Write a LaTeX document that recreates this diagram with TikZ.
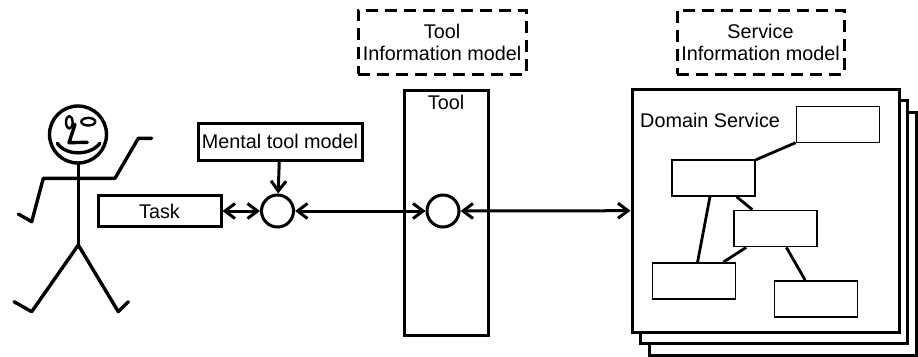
\documentclass[tikz,border=0pt]{standalone}
\usepackage{fontspec}
\setmainfont{Liberation Sans}
\usepackage{tikz}
\usetikzlibrary{positioning,arrows,arrows.meta,calc}
\tikzset{
  >={Straight Barb[length=10pt,width=15pt]},
  every node/.style={font=\fontsize{19.8}{22}\selectfont},
  % --- nodes
  box/.style   = {rectangle, draw, line width=3pt, fill=white, inner sep=0pt, align=center},
  dbox/.style  = {box, fill=none, dash pattern=on 12pt off 7pt},
  ibox/.style  = {rectangle, draw, line width=1.8pt, fill=white, minimum width=83pt, minimum height=36pt},
  hub/.style   = {circle, draw, line width=3pt, fill=white, minimum size=32pt, inner sep=0pt},
  layer/.style = {box, minimum width=267pt, minimum height=243pt},
  % --- edges
  e/.style     = {->, line width=3pt},
  ed/.style    = {<->, line width=3pt},
  link/.style  = {line width=2.8pt},
  fig/.style   = {line width=3.4pt, line cap=round, line join=round},
}
\begin{document}
\begin{tikzpicture}[x=1pt,y=-1pt]
  \useasboundingbox (0,0) rectangle (918,356);

  % the user
  \draw[fig] (78,134.5) circle[radius=28.5pt];
  \draw[fig,line width=2.4pt] (69.3,122.3) ellipse[x radius=3.3pt,y radius=6.3pt];
  \draw[fig,line width=2.4pt] (88.3,121.7) ellipse[x radius=7pt,y radius=3.8pt];
  \draw[fig] (75,124.3) -- (69,142.7) -- (87.3,142.3);
  \draw[fig] (57.3,143.3) .. controls (66,156) and (90,156) .. (100,143.3);
  \draw[fig] (78.3,164) -- (78.3,245);
  \draw[fig] (18.3,214) -- (31.7,221.7) -- (43.3,178.3) -- (115,178.3) -- (138.3,138.3) -- (151.7,138.3);
  \draw[fig] (14,301.7) -- (31.7,311.7) -- (78.3,245) -- (118.3,311.7) -- (128.3,301.7);

  \node[box,minimum width=123pt,minimum height=31pt] (task) at (159.5,211) {Task};
  \node[box,minimum width=164pt,minimum height=37pt] (mental) at (280,141.5) {Mental tool model};
  \node[hub] (c1) at (277.5,211) {};

  % tool column
  \node[dbox,minimum width=168pt,minimum height=64pt] (toolinfo) at (442,42) {Tool\\Information model};
  \node[box,fill=none,minimum width=84pt,minimum height=245pt] (tool) at (446,212.5) {};
  \node (toollbl) at (446,102) {Tool};
  \node[hub] (c2) at (443,211) {};

  % service stack
  \node[dbox,minimum width=167pt,minimum height=64pt] (servinfo) at (760.5,42) {Service\\Information model};
  \node[layer] (layer3) at (782.5,233.5) {};
  \node[layer] (layer2) at (774,222) {};
  \node[layer] (dom) at (765.5,210.5) {};
  \node[anchor=west,inner sep=0pt] (domlbl) at (640,120) {Domain Service};
  \node[ibox] (sa) at (838,124.5) {};
  \node[ibox] (sb) at (713.5,178) {};
  \node[ibox] (sc) at (775.5,228.5) {};
  \node[ibox] (sd) at (694,281) {};
  \node[ibox] (se) at (816,299) {};
  \draw[link] (sb)--(sa); \draw[link] (sb)--(sd); \draw[link] (sb)--(sc);
  \draw[link] (sc)--(sd); \draw[link] (sc)--(se);

  \draw[e] (mental)--(c1);
  \draw[ed] (task)--(c1); \draw[ed] (c1)--(c2); \draw[ed] (c2)--(dom);
\end{tikzpicture}
\end{document}
